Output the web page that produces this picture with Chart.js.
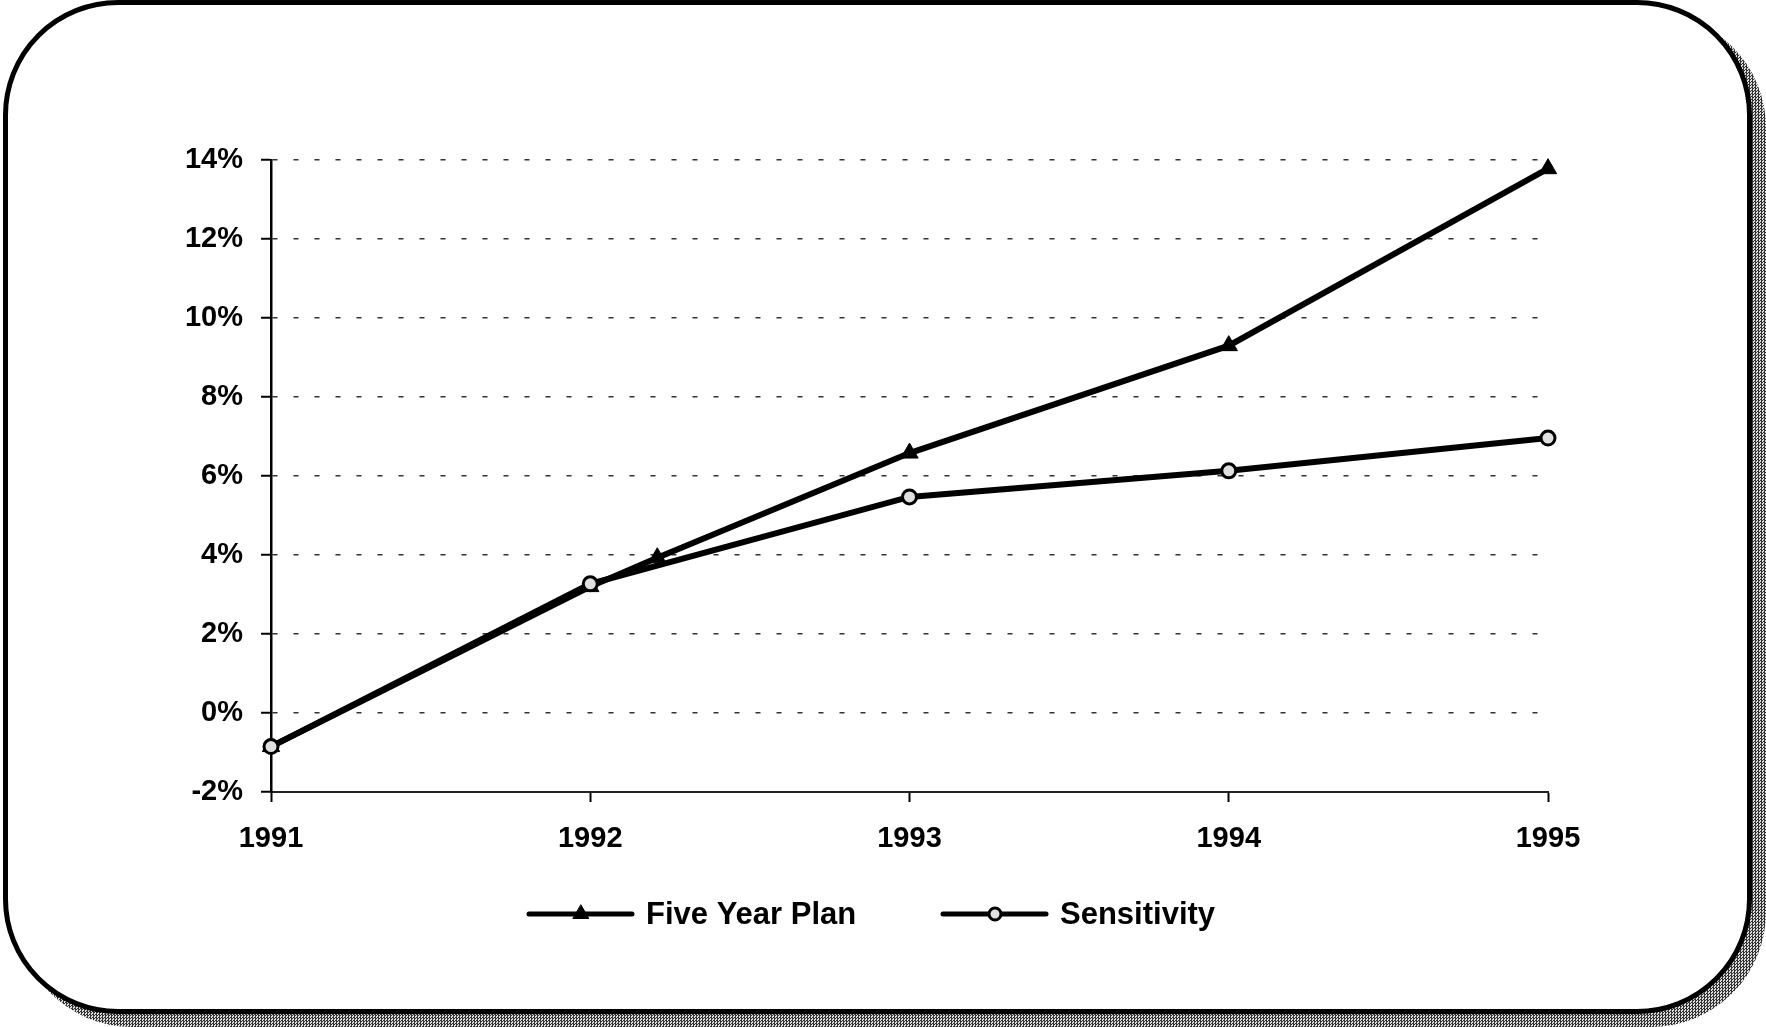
<!DOCTYPE html>
<html>
<head>
<meta charset="utf-8">
<script src="https://cdn.jsdelivr.net/npm/chart.js@4/dist/chart.umd.min.js"></script>
<style>
  html, body { margin: 0; padding: 0; background: #fff; }
  body { width: 1766px; height: 1027px; position: relative; overflow: hidden; }
  .shadow {
    position: absolute; left: 17px; top: 13px; width: 1749px; height: 1014px;
    border-radius: 115px;
    background-color: #fff;
    background-image: repeating-conic-gradient(#333 0 25%, #ddd 0 50%);
    background-size: 3px 3px;
  }
  .frame {
    position: absolute; left: 3px; top: 0; width: 1749px; height: 1014px;
    border: 5px solid #000; border-radius: 115px; background: #fff; box-sizing: border-box;
  }
  #wrap { position: absolute; left: 0; top: 0; width: 1766px; height: 1027px; }
  #grafico { display: block; }
</style>
</head>
<body>
<div class="shadow"></div>
<div class="frame"></div>
<div id="wrap"><canvas id="grafico" width="1766" height="1027" style="width:1766px;height:1027px"></canvas></div>
<script>
// anos no eixo x
const anos = [1991, 1992, 1993, 1994, 1995];
// Five Year Plan (tem um marcador extra logo depois de 1992)
const anosPlano = [1991, 1992, 1992.21, 1993, 1994, 1995];
const plano = [-0.85, 3.2, 3.93, 6.58, 9.3, 13.78];
// Sensitivity
const sensibilidade = [-0.85, 3.27, 5.47, 6.13, 6.96];
// eixo y
const yMin = -2;
const yMax = 14;
const yPasso = 2;

const fonte = "'Liberation Sans', Arial, Helvetica, sans-serif";

function pontos(xs, ys) {
  return xs.map((x, i) => ({ x: x, y: ys[i] }));
}

// legenda desenhada à mão (linha com marcador no meio)
const legendaPlugin = {
  id: "legendaManual",
  afterDraw(chart) {
    const ctx = chart.ctx;
    const itens = [
      { ds: chart.data.datasets[0], x: 529 },
      { ds: chart.data.datasets[1], x: 943 },
    ];
    const y = 914;
    ctx.save();
    itens.forEach((it) => {
      const ds = it.ds;
      ctx.strokeStyle = ds.borderColor;
      ctx.lineWidth = 5;
      ctx.lineCap = "round";
      ctx.beginPath();
      ctx.moveTo(it.x, y);
      ctx.lineTo(it.x + 103, y);
      ctx.stroke();
      ctx.fillStyle = ds.pointBackgroundColor;
      ctx.strokeStyle = ds.pointBorderColor;
      ctx.lineWidth = ds.pointBorderWidth;
      Chart.helpers.drawPoint(ctx, {
        pointStyle: ds.pointStyle,
        radius: ds.pointRadius - 1,
        rotation: 0,
        borderWidth: ds.pointBorderWidth,
      }, it.x + 52, y);
      ctx.fillStyle = "#000";
      ctx.font = "bold 31px " + fonte;
      ctx.textBaseline = "middle";
      ctx.textAlign = "left";
      ctx.fillText(ds.label, it.x + 117, y + 1);
    });
    ctx.restore();
  },
};

const ctx = document.getElementById("grafico").getContext("2d");
new Chart(ctx, {
  type: "line",
  data: {
    datasets: [
      {
        label: "Five Year Plan",
        data: pontos(anosPlano, plano),
        borderColor: "#000",
        borderWidth: 6,
        pointStyle: "triangle",
        pointRadius: 10,
        pointBackgroundColor: "#000",
        pointBorderColor: "#000",
        pointBorderWidth: 1,
        tension: 0,
        clip: false,
        order: 1,
      },
      {
        label: "Sensitivity",
        data: pontos(anos, sensibilidade),
        borderColor: "#000",
        borderWidth: 6,
        pointStyle: "circle",
        pointRadius: 7,
        pointBackgroundColor: "#e0e0e0",
        pointBorderColor: "#000",
        pointBorderWidth: 3,
        tension: 0,
        clip: false,
        order: 0,
      },
    ],
  },
  options: {
    responsive: false,
    animation: false,
    maintainAspectRatio: false,
    devicePixelRatio: 1,
    layout: { padding: { left: 0, right: 218, top: 160, bottom: 175 } },
    plugins: {
      legend: { display: false },
      tooltip: { enabled: false },
    },
    scales: {
      x: {
        type: "linear",
        min: anos[0],
        max: anos[anos.length - 1],
        afterBuildTicks: (scale) => {
          scale.ticks = anos.map((v) => ({ value: v }));
        },
        afterFit: (scale) => {
          scale.height = 60;
        },
        ticks: {
          color: "#000",
          padding: 20,
          font: { family: fonte, size: 29, weight: "bold" },
          callback: (v) => String(v),
        },
        grid: {
          drawOnChartArea: false,
          drawTicks: true,
          tickLength: 10,
          tickColor: "#000",
          tickWidth: 2,
        },
        border: { color: "#222", width: 2 },
      },
      y: {
        min: yMin,
        max: yMax,
        afterFit: (scale) => {
          scale.width = 271;
        },
        ticks: {
          stepSize: yPasso,
          color: "#000",
          padding: 18,
          font: { family: fonte, size: 29, weight: "bold" },
          callback: (v) => v + "%",
        },
        grid: {
          color: (c) => (c.tick && c.tick.value === yMin ? "rgba(0,0,0,0)" : "#333"),
          lineWidth: 1.5,
          tickLength: 10,
          tickColor: "#000",
          tickWidth: 2,
        },
        border: { color: "#000", width: 2.5, dash: [5, 16] },
      },
    },
  },
  plugins: [legendaPlugin],
});
</script>
</body>
</html>
